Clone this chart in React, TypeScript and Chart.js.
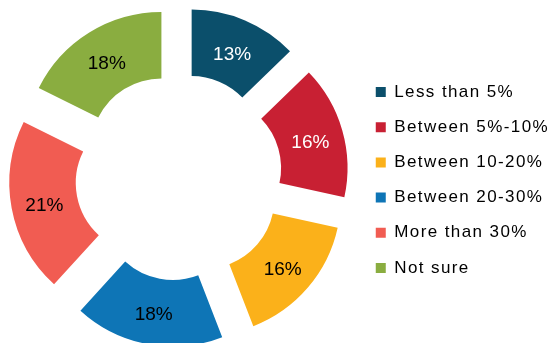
import React, { useEffect, useRef } from "react";
import { Chart, registerables } from "chart.js";

Chart.register(...registerables);

const categories = [
  "Less than 5%",
  "Between 5%-10%",
  "Between 10-20%",
  "Between 20-30%",
  "More than 30%",
  "Not sure",
];
const values = [13, 16, 16, 18, 21, 18];
const sliceColors = ["#0b4f6b", "#c82033", "#fbb11a", "#0e75b6", "#f15c52", "#8aad40"];
const labelColors = ["#ffffff", "#ffffff", "#000000", "#000000", "#000000", "#000000"];

const EXPLODE = 33;
const LABEL_DY = 3.5;
const FONT = "'Liberation Sans', Arial, sans-serif";

const explodePlugin = {
  id: "explode",
  beforeLayout(chart: any) {
    chart.ctx.letterSpacing = "1.4px";
  },
  beforeDraw(chart: any) {
    chart.ctx.letterSpacing = "1.4px";
  },
  beforeDatasetDraw(chart: any, args: any) {
    const meta = chart.getDatasetMeta(args.index);
    const ctx = chart.ctx;
    meta.data.forEach((arc: any) => {
      const mid = (arc.startAngle + arc.endAngle) / 2;
      ctx.save();
      ctx.translate(Math.cos(mid) * EXPLODE, Math.sin(mid) * EXPLODE);
      arc.draw(ctx);
      ctx.restore();
    });
    return false;
  },
  afterDatasetsDraw(chart: any) {
    const meta = chart.getDatasetMeta(0);
    const ctx = chart.ctx;
    ctx.save();
    ctx.letterSpacing = "0px";
    ctx.font = `19px ${FONT}`;
    ctx.textAlign = "center";
    ctx.textBaseline = "middle";
    meta.data.forEach((arc: any, i: number) => {
      const mid = (arc.startAngle + arc.endAngle) / 2;
      const r = (arc.innerRadius + arc.outerRadius) / 2 + EXPLODE;
      const x = arc.x + Math.cos(mid) * r;
      const y = arc.y + Math.sin(mid) * r + LABEL_DY;
      ctx.fillStyle = labelColors[i];
      ctx.fillText(`${values[i]}%`, x, y);
    });
    ctx.restore();
  },
};

export default function App() {
  const ref = useRef<HTMLCanvasElement>(null);
  useEffect(() => {
    document.body.style.margin = "0";
    const chart = new Chart(ref.current!, {
      type: "doughnut",
      data: {
        labels: categories,
        datasets: [
          {
            data: values,
            backgroundColor: sliceColors,
            borderWidth: 0,
            clip: false as any,
          },
        ],
      },
      options: {
        animation: false,
        responsive: false,
        cutout: "51.5%",
        layout: { padding: { left: -6, top: 40, bottom: 29, right: -8 } },
        plugins: {
          tooltip: { enabled: false },
          legend: {
            position: "right",
            title: {
              display: true,
              text: " ",
              padding: 0,
              font: { family: FONT, size: 5, lineHeight: 1.2 },
            },
            labels: {
              boxWidth: 10,
              boxHeight: 10,
              padding: 18.2,
              color: "#000",
              font: { family: FONT, size: 17 },
            },
          },
        },
      },
      plugins: [explodePlugin],
    });
    return () => chart.destroy();
  }, []);
  return <canvas ref={ref} width={551} height={343} style={{ display: "block" }} />;
}
